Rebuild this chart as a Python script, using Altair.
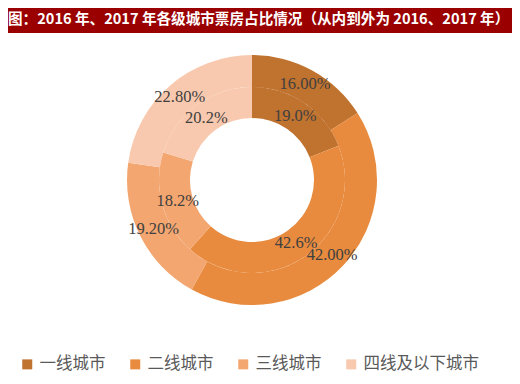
import altair as alt
import pandas as pd

categories = ["一线城市", "二线城市", "三线城市", "四线及以下城市"]
values_2016 = [19.0, 42.6, 18.2, 20.2]
values_2017 = [16.00, 42.00, 19.20, 22.80]
labels_2016 = ["19.0%", "42.6%", "18.2%", "20.2%"]
labels_2017 = ["16.00%", "42.00%", "19.20%", "22.80%"]
colors = ["#C0722F", "#E88B3E", "#F3A66F", "#F8C9AE"]
title_text = "图：2016 年、2017 年各级城市票房占比情况（从内到外为 2016、2017 年）"

df16 = pd.DataFrame({"category": categories, "value": values_2016,
                     "label": labels_2016, "order": list(range(4))})
df17 = pd.DataFrame({"category": categories, "value": values_2017,
                     "label": labels_2017, "order": list(range(4))})
title_df = pd.DataFrame({"t": [title_text]})

CX, CY = 244, 172

color = alt.Color(
    "category:N",
    sort=categories,
    scale=alt.Scale(domain=categories, range=colors),
    legend=alt.Legend(
        orient="none", legendX=11, legendY=348, direction="horizontal",
        title=None, symbolType="square", symbolSize=100, symbolStrokeWidth=0,
        labelFont="Noto Sans CJK SC", labelFontSize=16.5, labelColor="#595959",
        columnPadding=21, labelOffset=4,
    ),
)

def ring(df, r_out, r_in):
    return alt.Chart(df).mark_arc(radius=r_out, radius2=r_in).encode(
        theta=alt.Theta("value:Q", stack=True),
        color=color,
        order=alt.Order("order:Q"),
        x=alt.value(CX), y=alt.value(CY),
    )

def labels(df, r):
    return alt.Chart(df).mark_text(
        radius=r, font="Liberation Serif", fontSize=16.5, color="#404040"
    ).encode(
        theta=alt.Theta("value:Q", stack=True),
        detail="category:N",
        order=alt.Order("order:Q"),
        text="label:N",
        x=alt.value(CX), y=alt.value(CY),
    )

banner = alt.Chart(title_df).mark_rect(color="#9B0000").encode(
    x=alt.value(-8), x2=alt.value(520), y=alt.value(-8), y2=alt.value(25)
)
title = alt.Chart(title_df).mark_text(
    align="left", baseline="middle", font="Noto Sans CJK SC",
    fontSize=14.6, fontWeight="bold", color="white"
).encode(x=alt.value(0), y=alt.value(12), text="t:N")

chart = alt.layer(
    banner, title,
    ring(df17, 125, 93), ring(df16, 93, 62),
    labels(df17, 110), labels(df16, 77),
).properties(
    width=504, height=368, autosize="none", padding=0
).configure_view(stroke=None)

chart.save("out.html", embed_options={"renderer": "svg", "actions": False})
